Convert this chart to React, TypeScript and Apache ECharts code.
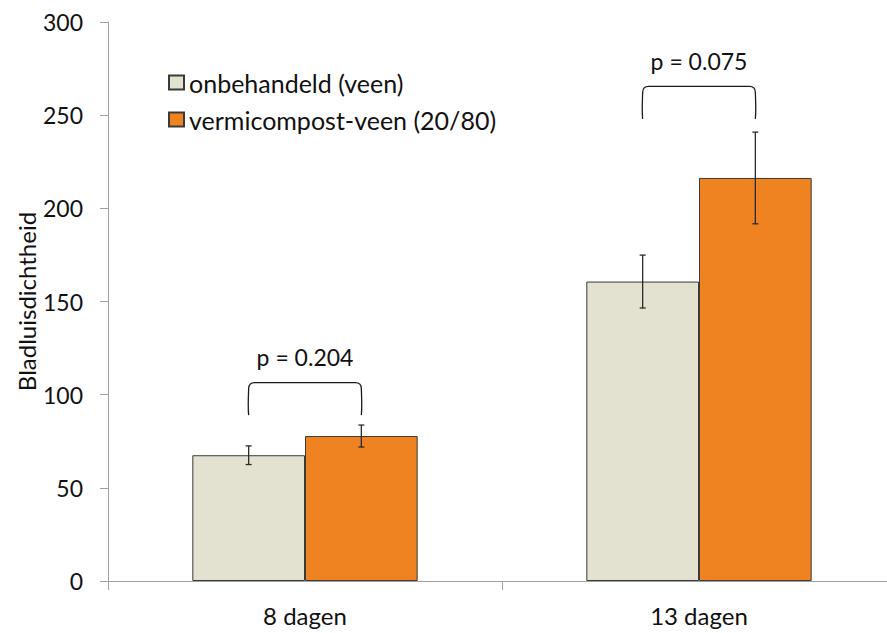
import React, { useEffect, useRef } from "react";
import * as echarts from "echarts";

const categories = ["8 dagen", "13 dagen"];
const seriesNames = ["onbehandeld (veen)", "vermicompost-veen (20/80)"];
const untreated = [67.5, 160.7];
const vermicompost = [77.8, 216.3];
const untreatedErr = [5.0, 14.2];
const vermicompostErr = [5.9, 24.6];
const yMin = 0;
const yMax = 300;
const yInterval = 50;
const pLabels = ["p = 0.204", "p = 0.075"];
const bracketBottom = [89, 248];
const bracketTop = [106.5, 265.5];
const pLabelValue = [120, 279];

const BAR_FRAC = 0.286;
const FONT = "Lato, 'Noto Sans', sans-serif";

export default function App() {
  const ref = useRef<HTMLDivElement>(null);
  useEffect(() => {
    document.body.style.margin = "0";
    const chart = echarts.init(ref.current!, null, { renderer: "svg" });

    const errData = (vals: number[], errs: number[], side: number) =>
      vals.map((v, i) => [i, v, errs[i], side]);

    const errorRender = (params: any, api: any) => {
      const bw = api.size([1, 0])[0] * BAR_FRAC;
      const c = api.coord([api.value(0), api.value(1)]);
      const x = c[0] + (api.value(3) * bw) / 2;
      const hi = api.coord([api.value(0), api.value(1) + api.value(2)])[1];
      const lo = api.coord([api.value(0), api.value(1) - api.value(2)])[1];
      const cap = 3;
      const st = { stroke: "#2b2b2b", lineWidth: 1.3 };
      return {
        type: "group",
        children: [
          { type: "line", shape: { x1: x, y1: hi, x2: x, y2: lo }, style: st },
          { type: "line", shape: { x1: x - cap, y1: hi, x2: x + cap, y2: hi }, style: st },
          { type: "line", shape: { x1: x - cap, y1: lo, x2: x + cap, y2: lo }, style: st },
        ],
      };
    };

    const bracketRender = (params: any, api: any) => {
      const i = api.value(0);
      const bw = api.size([1, 0])[0] * BAR_FRAC;
      const cx = api.coord([i, 0])[0];
      const x1 = cx - bw / 2;
      const x2 = cx + bw / 2;
      const yb = api.coord([i, api.value(1)])[1];
      const yt = api.coord([i, api.value(2)])[1];
      const yl = api.coord([i, api.value(3)])[1];
      const r = 6;
      const d = `M ${x1} ${yb} C ${x1 - 1} ${yb - 10} ${x1} ${yt + r + 4} ${x1} ${yt + r} Q ${x1} ${yt} ${x1 + r} ${yt} L ${x2 - r} ${yt} Q ${x2} ${yt} ${x2} ${yt + r} C ${x2} ${yt + r + 4} ${x2 + 1} ${yb - 10} ${x2} ${yb}`;
      return {
        type: "group",
        children: [
          {
            type: "path",
            shape: { pathData: d },
            style: { fill: "none", stroke: "#1a1a1a", lineWidth: 1.3 },
          },
          {
            type: "text",
            x: cx,
            y: yl,
            style: {
              text: pLabels[i],
              textAlign: "center",
              textVerticalAlign: "middle",
              fontSize: 23,
              fontFamily: FONT,
              fill: "#111",
            },
          },
        ],
      };
    };

    chart.setOption({
      animation: false,
      grid: { left: 108, top: 22, right: -9, bottom: 52, outerBoundsMode: "none", containLabel: false },
      legend: {
        data: seriesNames,
        orient: "vertical",
        left: 163,
        top: 65,
        itemWidth: 15,
        itemHeight: 14,
        itemGap: 12,
        icon: "rect",
        textStyle: { fontSize: 25, fontFamily: FONT, color: "#111" },
      },
      xAxis: {
        type: "category",
        data: categories,
        axisLine: { lineStyle: { color: "#a0a0a0", width: 1 } },
        axisTick: { show: true, length: 9, lineStyle: { color: "#a0a0a0" } },
        axisLabel: { fontSize: 24, fontFamily: FONT, color: "#111", margin: 22 },
      },
      yAxis: {
        type: "value",
        min: yMin,
        max: yMax,
        interval: yInterval,
        name: "Bladluisdichtheid",
        nameLocation: "middle",
        nameGap: 70,
        nameMoveOverlap: false,
        nameTextStyle: { fontSize: 24, fontFamily: FONT, color: "#111" },
        axisLine: { show: true, lineStyle: { color: "#a0a0a0", width: 1 } },
        axisTick: { show: true, length: 8, lineStyle: { color: "#a0a0a0" } },
        splitLine: { show: false },
        axisLabel: { fontSize: 23, fontFamily: FONT, color: "#111", margin: 25 },
      },
      series: [
        {
          name: seriesNames[0],
          type: "bar",
          data: untreated,
          barWidth: BAR_FRAC * 100 + "%",
          barGap: "0%",
          itemStyle: { color: "#E3E1CF", borderColor: "#3a3a3a", borderWidth: 1 },
        },
        {
          name: seriesNames[1],
          type: "bar",
          data: vermicompost,
          barWidth: BAR_FRAC * 100 + "%",
          barGap: "0%",
          itemStyle: { color: "#EF8322", borderColor: "#3a3a3a", borderWidth: 1 },
        },
        {
          type: "custom",
          renderItem: errorRender,
          data: errData(untreated, untreatedErr, -1),
          z: 5,
        },
        {
          type: "custom",
          renderItem: errorRender,
          data: errData(vermicompost, vermicompostErr, 1),
          z: 5,
        },
        {
          type: "custom",
          renderItem: bracketRender,
          data: categories.map((_, i) => [i, bracketBottom[i], bracketTop[i], pLabelValue[i]]),
          z: 5,
        },
      ],
    });
    return () => chart.dispose();
  }, []);
  return <div ref={ref} style={{ width: 887, height: 633 }} />;
}
